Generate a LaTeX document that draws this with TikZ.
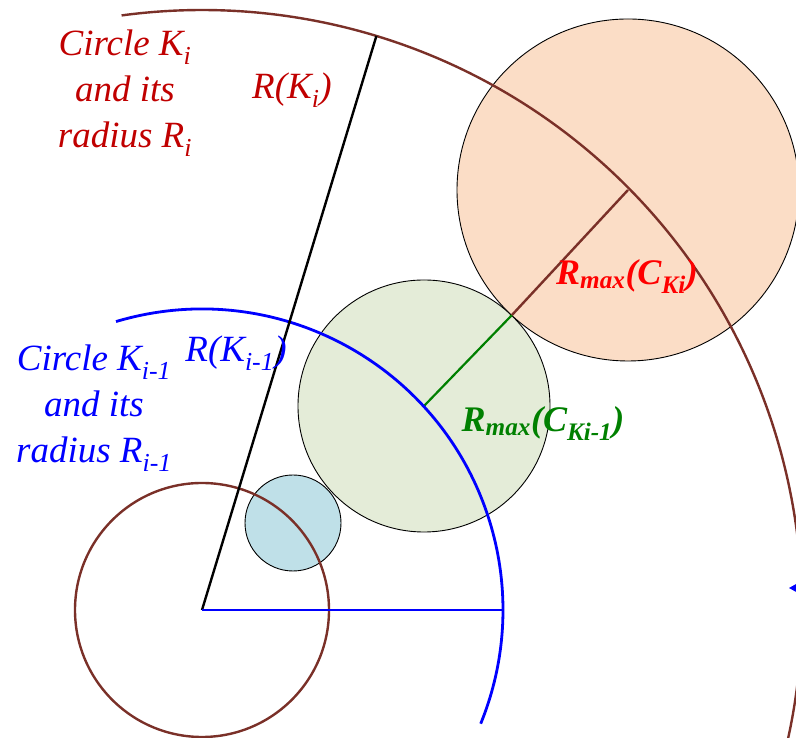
\documentclass[tikz,border=0pt]{standalone}
\usepackage{fontspec}
\setmainfont{Liberation Serif}
\begin{document}
\begin{tikzpicture}[x=1pt,y=1pt,
  brownline/.style={draw={rgb,255:red,122;green,48;blue,40}, line width=2.4pt},
  blueline/.style={draw=blue, line width=2.8pt},
  fillcirc/.style={draw=black, line width=0.9pt},
  lbl/.style={font=\fontsize{37}{46}\selectfont\itshape, inner sep=0pt, anchor=base, align=center},
  blbl/.style={font=\fontsize{36}{46}\selectfont\bfseries\itshape, inner sep=0pt, anchor=base},
]
\definecolor{kred}{RGB}{192,0,0}
\definecolor{kbrown}{RGB}{122,48,40}
\definecolor{kgreen}{RGB}{0,128,0}
\definecolor{korange}{RGB}{251,221,198}
\definecolor{kgfill}{RGB}{228,236,216}
\definecolor{kbfill}{RGB}{191,224,232}
\useasboundingbox (0,0) rectangle (796,738);
\coordinate (O) at (202,128);
\coordinate (Cs) at (293,215);
\coordinate (Cg) at (424,332);
\coordinate (Co) at (628,548);
\coordinate (T) at (512,423);
% filled circles
\fill[kbfill] (Cs) circle[radius=48];
\draw[fillcirc] (Cs) circle[radius=48];
\fill[kgfill] (Cg) circle[radius=126];
\draw[fillcirc] (Cg) circle[radius=126];
\fill[korange] (Co) circle[radius=171];
\draw[fillcirc] (Co) circle[radius=171];
% radius lines
\draw[kgreen, line width=2.2pt] (Cg) -- (T);
\draw[brownline] (T) -- (Co);
% circles and arcs around O
\draw[brownline] (O) circle[radius=127];
\draw[brownline] (O) ++(97.7:600) arc[start angle=97.7, end angle=-14, radius=600];
\draw[blueline] (O) ++(106.6:301) arc[start angle=106.6, end angle=-22.2, radius=301];
\path (O) ++(73.1:600) coordinate (Ktop);
\path (O) ++(0:301) coordinate (Kb);
\draw[black, line width=2.4pt] (O) -- (Ktop);
\draw[blueline] (O) -- (Kb);
\coordinate (Tip) at (789,150);
\fill[blue] (Tip) -- (798,145) -- (798,155) -- cycle;
% labels
\node[lbl, text=kred] (l1) at (125,590) {Circle K\textsubscript{i}\\and its\\radius R\textsubscript{i}};
\node[lbl, text=kred] (l2) at (292,639) {R(K\textsubscript{i})};
\node[lbl, text=blue] (l3) at (94,275) {Circle K\textsubscript{i-1}\\and its\\radius R\textsubscript{i-1}};
\node[lbl, text=blue] (l4) at (236,376) {R(K\textsubscript{i-1})};
\node[blbl, text=red] (l5) at (627,453) {R\textsubscript{max}(C\textsubscript{Ki})};
\node[blbl, text=kgreen] (l6) at (543,306) {R\textsubscript{max}(C\textsubscript{Ki-1})};
\end{tikzpicture}
\end{document}
